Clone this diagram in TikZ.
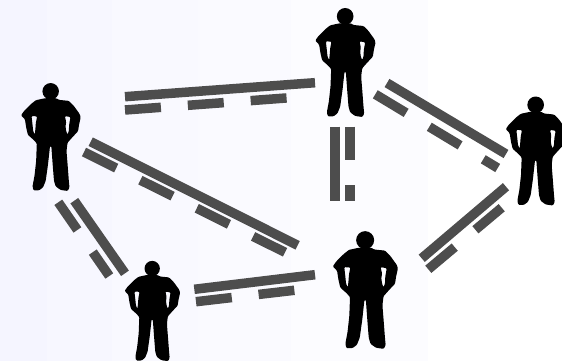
\documentclass[tikz,border=0pt]{standalone}
\definecolor{barcol}{HTML}{4D4D4D}

\tikzset{
  barline/.style={draw=barcol, line width=9.5pt},
  dashbar/.style={barline, dash pattern=on #1 off 27pt},
  dashbar/.default=36pt,
  personbox/.style={inner sep=0pt, minimum width=59pt, minimum height=109pt},
  person/.pic={
    \fill[black] (105,49) circle (25);
    \fill[black, even odd rule, rounded corners=1pt]
      (88,70) -- (122,70) -- (130,75) -- (160,78) -- (175,93) -- (193,118) -- (196,128)
      -- (191,150) -- (188,170) -- (172,187) -- (156,205) -- (153,230) -- (157,280)
      -- (160,320) -- (162,340) -- (157,351) -- (135,348) -- (120,337) -- (115,320)
      -- (111,270) -- (107,215) -- (103,215) -- (97,270) -- (90,320) -- (82,340)
      -- (70,349) -- (53,349) -- (50,337) -- (56,305) -- (61,260) -- (63,207)
      -- (53,196) -- (36,181) -- (31,160) -- (27,134) -- (15,122) -- (25,108)
      -- (45,88) -- (60,76) -- cycle
      (148,124) -- (165,127) -- (161,150) -- (160,170) -- (156,180) -- (152,170)
      -- (150,155) -- (152,142) -- cycle
      (47,124) -- (64,125) -- (60,145) -- (59,160) -- (57,180) -- (52,170)
      -- (50,150) -- cycle;
  }
}

\begin{document}
\begin{tikzpicture}[x=1pt, y=-1pt]
    \useasboundingbox (0,0) rectangle (562,361);

    % background bands
    \foreach \xa/\xb/\pct in {0/47/96, 47/112/97, 112/198/97.5, 198/291/98, 291/428/99}
      \fill[fill={rgb,100:red,\pct;green,\pct;blue,100}] (\xa,0) rectangle (\xb,361);

    % people
    \foreach \name/\x/\y/\s in {left/51/137/0.99, top/345.5/62.5/1, right/536/151/1,
                                mid/365.5/290/1.08, low/152.5/311/0.92} {
      \node[personbox, scale=\s] (\name) at (\x,\y) {};
      \pic[shift={(\x,\y)}, scale=\s/3, shift={(-106,-187.5)}] at (0,0) {person};
    }

    % links
    \draw[barline] ([shift={(74,-40.3)}]left.center) -- ([shift={(-30.5,20.2)}]top.center);
    \draw[dashbar] ([shift={(74,-27)}]left.center) -- ([shift={(-55.5,35.2)}]top.center);

    \draw[barline] ([shift={(41.5,20.5)}]top.center) -- ([shift={(-30,3)}]right.center);
    \draw[dashbar] ([shift={(29.8,31.8)}]top.center) -- ([shift={(-38.3,17)}]right.center);

    \draw[barline] ([shift={(-10.5,64.2)}]top.center) -- ([shift={(-30.5,-89.3)}]mid.center);
    \draw[barline, dash pattern=on 33.3pt off 25pt] ([shift={(4.5,64.2)}]top.center) -- ([shift={(-15.5,-89.3)}]mid.center);

    \draw[barline] ([shift={(39.7,4.7)}]left.center) -- ([shift={(-67.8,-44.7)}]mid.center);
    \draw[dashbar] ([shift={(33,15)}]left.center) -- ([shift={(-80.5,-37.7)}]mid.center);

    \draw[barline] ([shift={(23.3,63.7)}]left.center) -- ([shift={(-27.5,-37.7)}]low.center);
    \draw[dashbar=33.6pt] ([shift={(7.3,65.3)}]left.center) -- ([shift={(-43.2,-35)}]low.center);

    \draw[barline] ([shift={(41.8,-21.7)}]low.center) -- ([shift={(-50.5,-15.3)}]mid.center);
    \draw[dashbar] ([shift={(43.5,-9.3)}]low.center) -- ([shift={(-68.8,0)}]mid.center);

    \draw[barline] ([shift={(56.2,-31.7)}]mid.center) -- ([shift={(-30,35.7)}]right.center);
    \draw[dashbar=34.5pt] ([shift={(62.8,-20.7)}]mid.center) -- ([shift={(-34.3,56.7)}]right.center);
\end{tikzpicture}
\end{document}
